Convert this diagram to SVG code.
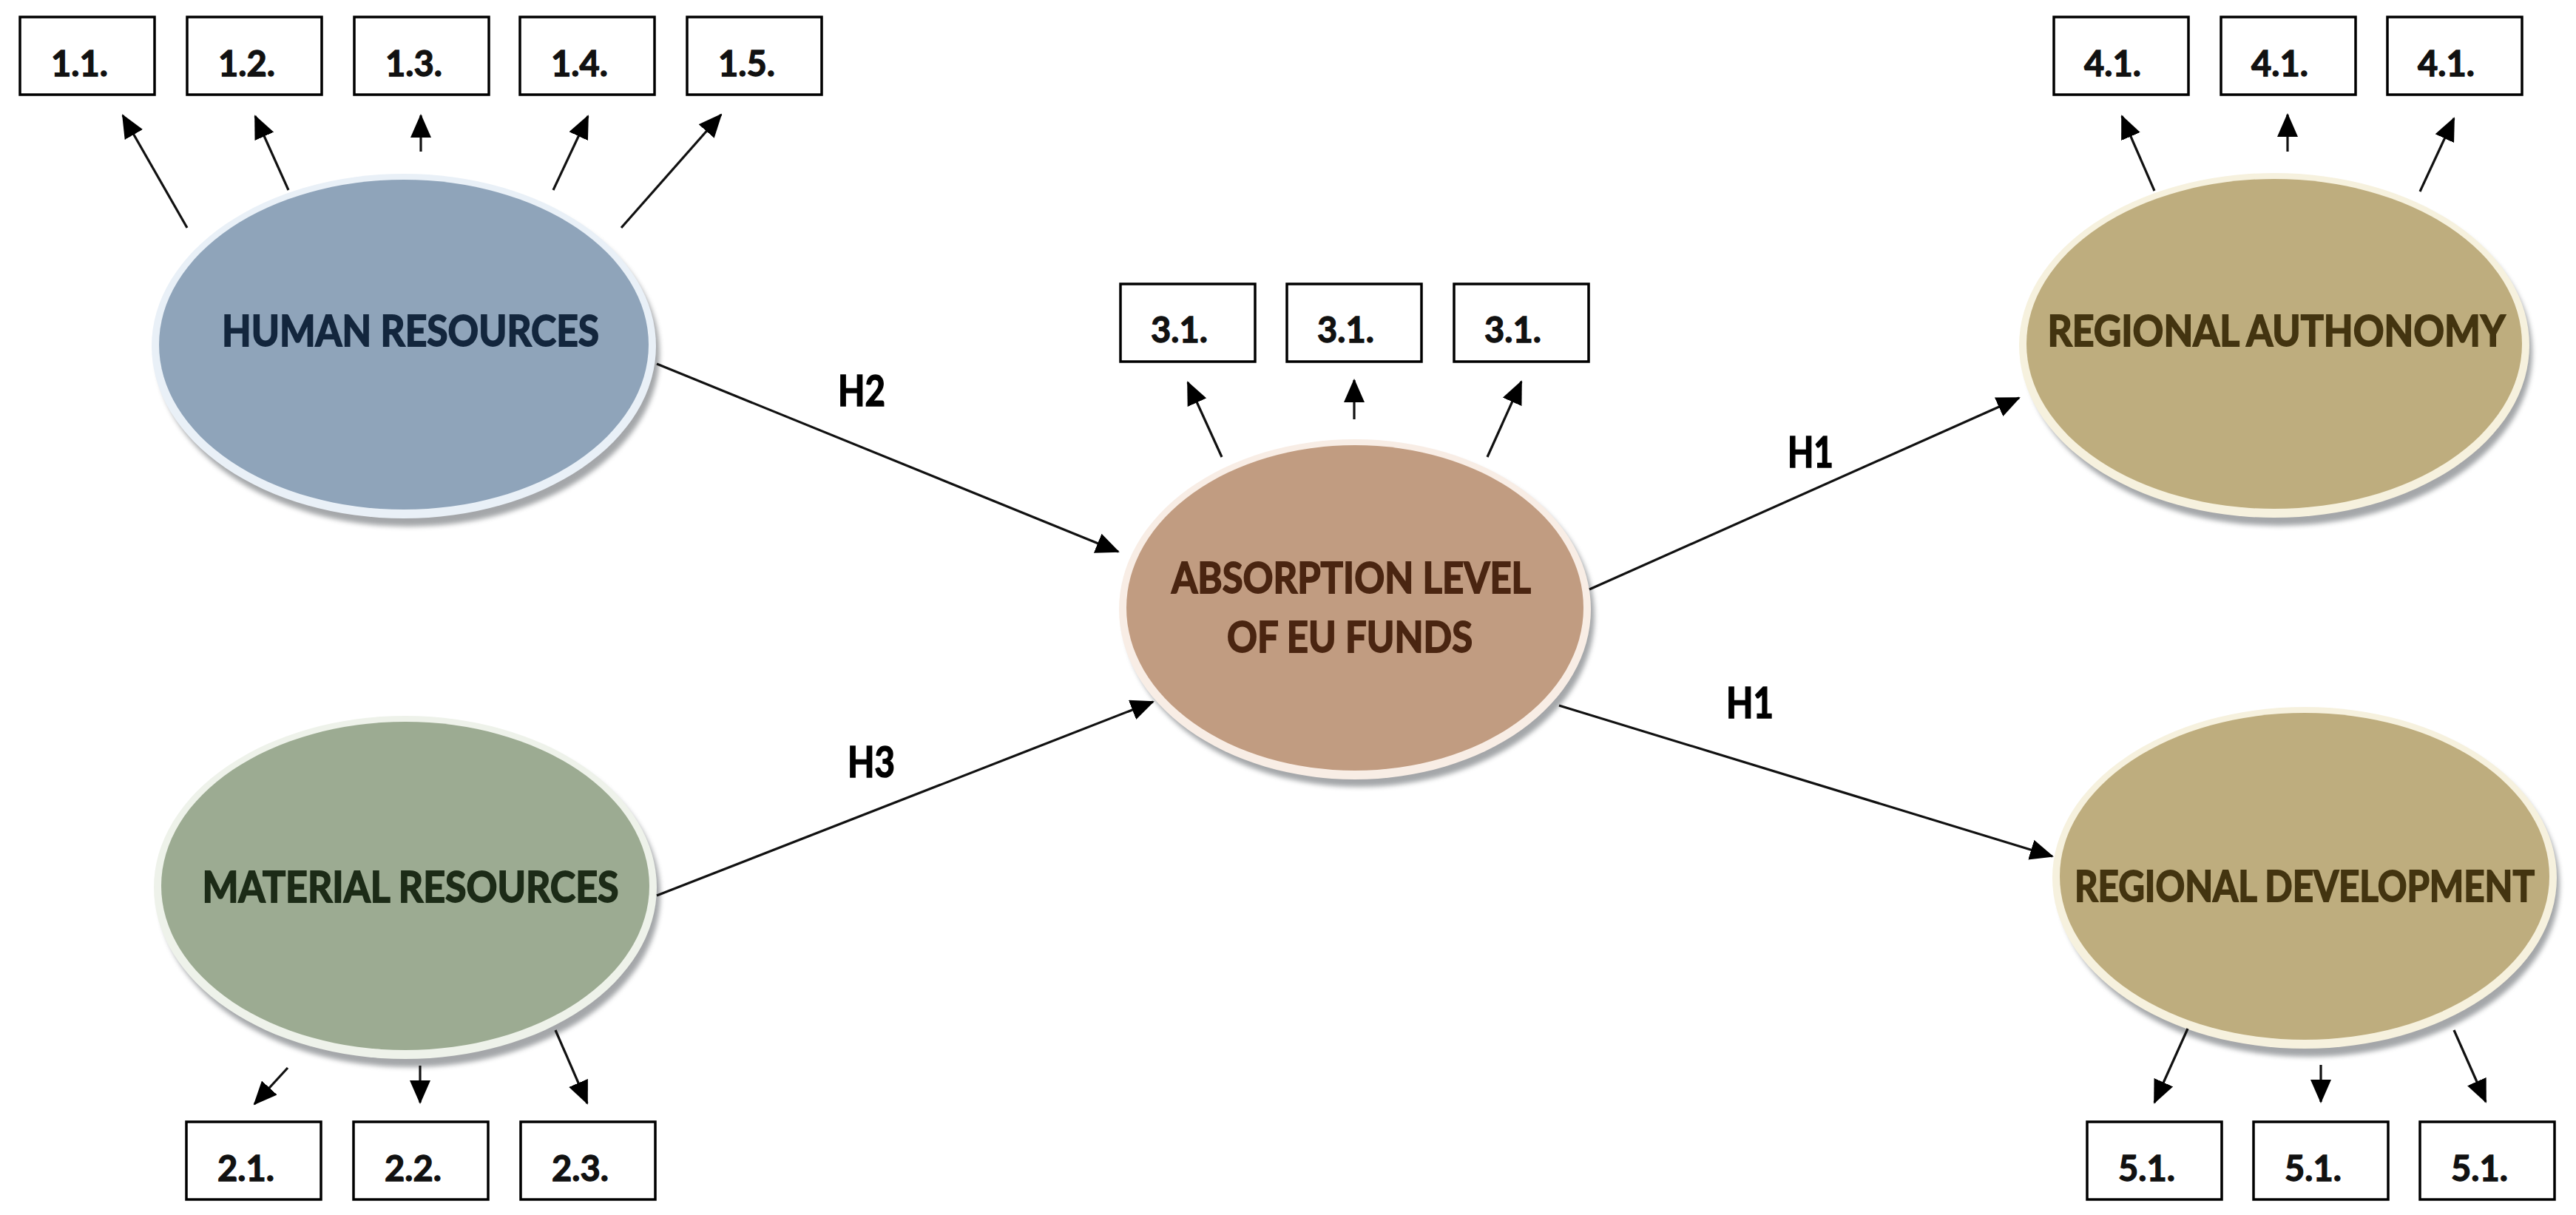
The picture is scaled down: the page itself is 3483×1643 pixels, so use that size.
<svg xmlns="http://www.w3.org/2000/svg" width="3483" height="1643" viewBox="0 0 3483 1643">
<style>
.box{fill:#fff;stroke:#000;stroke-width:3.5}
.bl{font-family:Lato,"Liberation Sans",sans-serif;font-weight:bold;font-size:47px;fill:#111;stroke:#111;stroke-width:1.3}
.nl{font-family:Lato,"Liberation Sans",sans-serif;font-weight:bold;font-size:57px;stroke-width:1.8}
.hl{font-family:Lato,"Liberation Sans",sans-serif;font-weight:bold;font-size:57px;fill:#000;stroke:#000;stroke-width:1.6}
.con{stroke:#111;stroke-width:3.2;fill:none;marker-end:url(#ah)}
.shadow{fill:#5a5f64;opacity:0.55;filter:url(#blur)}
</style>
<defs>
<marker id="ah" markerUnits="userSpaceOnUse" markerWidth="32" markerHeight="28" viewBox="0 0 32 28" refX="30" refY="14" orient="auto">
<path d="M0,0 L32,14 L0,28 Z" fill="#000"/>
</marker>
<filter id="blur" x="-10%" y="-10%" width="120%" height="120%"><feGaussianBlur stdDeviation="3"/></filter>
</defs>
<rect width="3483" height="1643" fill="#fff"/>

<g id="human">
<ellipse class="shadow" cx="552" cy="478" rx="340" ry="234"/>
<ellipse cx="546" cy="468" rx="341" ry="233" fill="#e9f0f7"/>
<ellipse cx="546" cy="466" rx="331" ry="223" fill="#8fa4ba"/>
<text class="nl" x="555" y="468" text-anchor="middle" textLength="510" lengthAdjust="spacingAndGlyphs" fill="#13263d" stroke="#13263d">HUMAN RESOURCES</text>
</g>

<g id="material">
<ellipse class="shadow" cx="554" cy="1210" rx="339" ry="233"/>
<ellipse cx="548" cy="1200" rx="340" ry="232" fill="#eef2ea"/>
<ellipse cx="548" cy="1198" rx="330" ry="222" fill="#9cab92"/>
<text class="nl" x="555" y="1220" text-anchor="middle" textLength="563" lengthAdjust="spacingAndGlyphs" fill="#1c2b17" stroke="#1c2b17">MATERIAL RESOURCES</text>
</g>

<g id="absorption">
<ellipse class="shadow" cx="1838" cy="833" rx="318" ry="231"/>
<ellipse cx="1832" cy="824" rx="319" ry="230" fill="#f8ede5"/>
<ellipse cx="1832" cy="822" rx="309" ry="220" fill="#c19c81"/>
<text class="nl" x="1827" y="802" text-anchor="middle" textLength="486" lengthAdjust="spacingAndGlyphs" fill="#4a2511" stroke="#4a2511">ABSORPTION LEVEL</text>
<text class="nl" x="1825" y="882" text-anchor="middle" textLength="332" lengthAdjust="spacingAndGlyphs" fill="#4a2511" stroke="#4a2511">OF EU FUNDS</text>
</g>

<g id="authonomy">
<ellipse class="shadow" cx="3081" cy="477" rx="343" ry="234"/>
<ellipse cx="3075" cy="467" rx="345" ry="233" fill="#f6f1de"/>
<ellipse cx="3075" cy="465" rx="335" ry="223" fill="#bead7e"/>
<text class="nl" x="3078" y="468" text-anchor="middle" textLength="619" lengthAdjust="spacingAndGlyphs" fill="#433410" stroke="#433410">REGIONAL AUTHONOMY</text>
</g>

<g id="development">
<ellipse class="shadow" cx="3122" cy="1197" rx="339" ry="232"/>
<ellipse cx="3116" cy="1187" rx="341" ry="231" fill="#f6f1de"/>
<ellipse cx="3116" cy="1185" rx="331" ry="221" fill="#bead7e"/>
<text class="nl" x="3116" y="1219" text-anchor="middle" textLength="622" lengthAdjust="spacingAndGlyphs" fill="#433410" stroke="#433410">REGIONAL DEVELOPMENT</text>
</g>

<g id="b11"><rect class="box" x="27" y="23" width="182" height="105"/><text class="bl" x="69" y="103">1.1.</text></g>
<g id="b12"><rect class="box" x="253" y="23" width="182" height="105"/><text class="bl" x="295" y="103">1.2.</text></g>
<g id="b13"><rect class="box" x="479" y="23" width="182" height="105"/><text class="bl" x="521" y="103">1.3.</text></g>
<g id="b14"><rect class="box" x="703" y="23" width="182" height="105"/><text class="bl" x="745" y="103">1.4.</text></g>
<g id="b15"><rect class="box" x="929" y="23" width="182" height="105"/><text class="bl" x="971" y="103">1.5.</text></g>

<g id="b21"><rect class="box" x="252" y="1517" width="182" height="105"/><text class="bl" x="294" y="1597">2.1.</text></g>
<g id="b22"><rect class="box" x="478" y="1517" width="182" height="105"/><text class="bl" x="520" y="1597">2.2.</text></g>
<g id="b23"><rect class="box" x="704" y="1517" width="182" height="105"/><text class="bl" x="746" y="1597">2.3.</text></g>

<g id="b31a"><rect class="box" x="1515" y="384" width="182" height="105"/><text class="bl" x="1556" y="463">3.1.</text></g>
<g id="b31b"><rect class="box" x="1740" y="384" width="182" height="105"/><text class="bl" x="1781" y="463">3.1.</text></g>
<g id="b31c"><rect class="box" x="1966" y="384" width="182" height="105"/><text class="bl" x="2007" y="463">3.1.</text></g>

<g id="b41a"><rect class="box" x="2777" y="23" width="182" height="105"/><text class="bl" x="2818" y="103">4.1.</text></g>
<g id="b41b"><rect class="box" x="3003" y="23" width="182" height="105"/><text class="bl" x="3044" y="103">4.1.</text></g>
<g id="b41c"><rect class="box" x="3228" y="23" width="182" height="105"/><text class="bl" x="3269" y="103">4.1.</text></g>

<g id="b51a"><rect class="box" x="2822" y="1517" width="182" height="105"/><text class="bl" x="2864" y="1597">5.1.</text></g>
<g id="b51b"><rect class="box" x="3047" y="1517" width="182" height="105"/><text class="bl" x="3089" y="1597">5.1.</text></g>
<g id="b51c"><rect class="box" x="3272" y="1517" width="182" height="105"/><text class="bl" x="3314" y="1597">5.1.</text></g>

<g id="connectors">
<line class="con" x1="253" y1="308" x2="166" y2="156"/>
<line class="con" x1="390" y1="257" x2="345" y2="157"/>
<line class="con" x1="569" y1="205" x2="569" y2="156"/>
<line class="con" x1="748" y1="257" x2="795" y2="157"/>
<line class="con" x1="840" y1="308" x2="975" y2="155"/>
<line class="con" x1="389" y1="1444" x2="344" y2="1493"/>
<line class="con" x1="568" y1="1441" x2="568" y2="1491"/>
<line class="con" x1="751" y1="1393" x2="794" y2="1492"/>
<line class="con" x1="1652" y1="618" x2="1606" y2="517"/>
<line class="con" x1="1831" y1="567" x2="1831" y2="514"/>
<line class="con" x1="2011" y1="618" x2="2057" y2="516"/>
<line class="con" x1="2913" y1="258" x2="2869" y2="157"/>
<line class="con" x1="3093" y1="205" x2="3093" y2="155"/>
<line class="con" x1="3272" y1="259" x2="3318" y2="160"/>
<line class="con" x1="2958" y1="1391" x2="2913" y2="1491"/>
<line class="con" x1="3138" y1="1440" x2="3138" y2="1490"/>
<line class="con" x1="3318" y1="1393" x2="3361" y2="1490"/>
<line class="con" x1="888" y1="492" x2="1512" y2="746"/>
<line class="con" x1="888" y1="1211" x2="1559" y2="949"/>
<line class="con" x1="2149" y1="797" x2="2730" y2="538"/>
<line class="con" x1="2108" y1="954" x2="2775" y2="1158"/>
<text class="hl" x="1133" y="549" textLength="64" lengthAdjust="spacingAndGlyphs">H2</text>
<text class="hl" x="1146" y="1051" textLength="64" lengthAdjust="spacingAndGlyphs">H3</text>
<text class="hl" x="2417" y="632" textLength="62" lengthAdjust="spacingAndGlyphs">H1</text>
<text class="hl" x="2334" y="971" textLength="64" lengthAdjust="spacingAndGlyphs">H1</text>
</g>
</svg>
